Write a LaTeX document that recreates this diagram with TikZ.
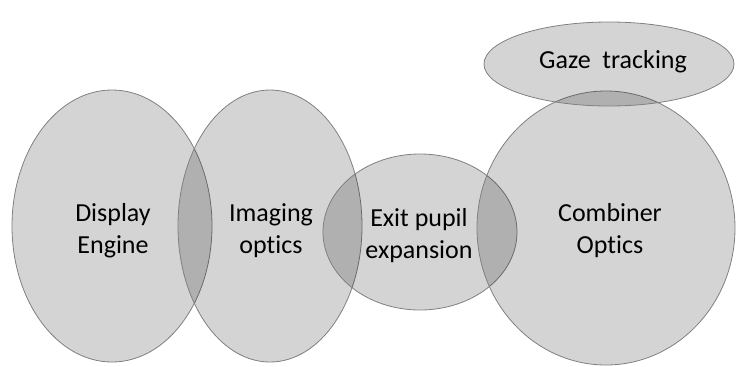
\documentclass[tikz,border=0pt]{standalone}
\usepackage{fontspec}
\setmainfont{Carlito}[Ligatures=NoCommon]
\usetikzlibrary{shapes.geometric}
\begin{document}
\begin{tikzpicture}[x=1pt,y=-1pt,
  blob/.style={ellipse, draw=black!50, line width=0.8pt, fill=black, fill opacity=0.17, draw opacity=1, inner sep=0pt},
  lbl/.style={font=\fontsize{26}{32}\selectfont, align=center, text=black}]
\useasboundingbox (0,0) rectangle (737,367);
\node[blob, minimum width=200pt, minimum height=272pt] (disp) at (112,226) {};
\node[blob, minimum width=184pt, minimum height=272pt] (img) at (270,226) {};
\node[blob, minimum width=194pt, minimum height=156pt] (exit) at (420,232) {};
\node[blob, minimum width=258pt, minimum height=274pt] (comb) at (606,228) {};
\node[blob, minimum width=250pt, minimum height=84pt] (gaze) at (609,64) {};
\node[lbl] (tdisp) at (113,231) {Display\\Engine};
\node[lbl] (timg) at (271,231) {Imaging\\optics};
\node[lbl] (texit) at (419,236) {Exit pupil\\expansion};
\node[lbl] (tcomb) at (610,231) {Combiner\\Optics};
\node[lbl] (tgaze) at (613,62) {Gaze\ \ tracking};
\end{tikzpicture}
\end{document}
